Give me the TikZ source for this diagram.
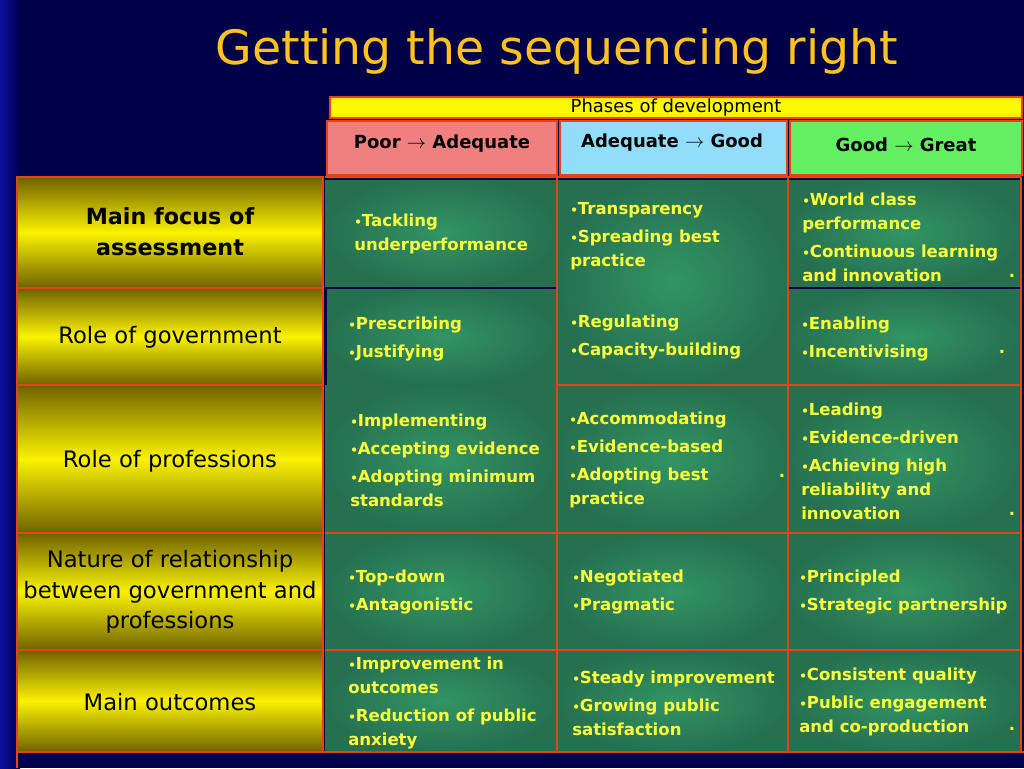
\documentclass[tikz,border=0pt]{standalone}
\usepackage{fontspec}
\setmainfont{DejaVu Sans}
\usetikzlibrary{positioning}

\definecolor{navy}{RGB}{0,0,72}
\definecolor{stripblue}{RGB}{14,14,160}
\definecolor{titlegold}{RGB}{255,194,30}
\definecolor{tblred}{RGB}{232,66,24}
\definecolor{cellgreen}{RGB}{38,112,80}
\definecolor{cellglow}{RGB}{50,148,100}
\definecolor{hdryellow}{RGB}{250,242,0}
\definecolor{hdrolive}{RGB}{112,98,0}
\definecolor{txtyellow}{RGB}{255,255,60}
\definecolor{poorpink}{RGB}{240,128,128}
\definecolor{adqblue}{RGB}{146,222,250}
\definecolor{goodgreen}{RGB}{98,240,98}

\newcommand{\itemdot}{{\small\textbullet}}

\tikzset{
  rowhead/.style={top color=hdrolive, bottom color=hdrolive, middle color=hdryellow, draw=tblred, line width=1.5pt},
  cellbox/.style={inner color=cellglow, outer color=cellgreen},
  redline/.style={draw=tblred, line width=1.5pt},
  navyline/.style={draw=navy, line width=1pt},
  celltext/.style={anchor=west, align=left, text=txtyellow, inner sep=0pt,
    font=\fontsize{12.4}{18}\selectfont\bfseries},
  straydot/.style={text=txtyellow, inner sep=0pt, font=\fontsize{12.4}{18}\selectfont\bfseries},
  headtext/.style={align=center, inner sep=0pt, font=\fontsize{17}{23}\selectfont},
  phasetext/.style={inner sep=0pt, font=\fontsize{13.5}{16}\selectfont\bfseries}
}

\begin{document}
\begin{tikzpicture}[x=0.75pt,y=-0.75pt]
\useasboundingbox (0,0) rectangle (1024,768);
% background
\fill[navy] (0,0) rectangle (1024,768);
\shade[left color=stripblue, right color=navy] (0,0) rectangle (20,768);

\node[text=titlegold, font=\fontsize{35.5}{40}\selectfont] (title) at (557,51) {Getting the sequencing right};

% phases header
\path[top color=yellow!85!orange, bottom color=yellow!85!orange, middle color=yellow, draw=tblred, line width=1.5pt] (330,97) rectangle (1022,118);
\node[font=\fontsize{13.5}{15}\selectfont] (phases) at (676,107.5) {Phases of development};
\path[fill=poorpink, draw=tblred, line width=1.5pt] (327,121) rectangle (557,175);
\path[fill=adqblue, draw=tblred, line width=1.5pt] (560,121) rectangle (787,175);
\path[fill=goodgreen, draw=tblred, line width=1.5pt] (790,121) rectangle (1022,175);
\node[phasetext] (poor) at (442,144) {Poor $\rightarrow$ Adequate};
\node[phasetext] (adequate) at (672,143) {Adequate $\rightarrow$ Good};
\node[phasetext] (good) at (906,145) {Good $\rightarrow$ Great};

% row headings
\path[rowhead] (17,177) rectangle (323,288);
\path[rowhead] (17,288) rectangle (323,385);
\path[rowhead] (17,385) rectangle (323,533);
\path[rowhead] (17,533) rectangle (323,650);
\path[rowhead] (17,650) rectangle (323,752);
\node[headtext, font=\fontsize{16.7}{23}\selectfont\bfseries] (focus) at (170,232) {Main focus of\\assessment};
\node[headtext] (govt) at (170,337) {Role of government};
\node[headtext] (prof) at (170,461) {Role of professions};
\node[headtext] (nature) at (170,592) {Nature of relationship\\between government and\\professions};
\node[headtext] (outcomes) at (170,702) {Main outcomes};

% green cells
\path[cellbox] (325,177) rectangle (557,288);
\path[cellbox] (325,288) rectangle (557,385);
\path[cellbox] (557,177) rectangle (788,385);
\path[cellbox] (788,177) rectangle (1021,288);
\path[cellbox] (788,288) rectangle (1021,385);
\path[cellbox] (325,385) rectangle (557,533);
\path[cellbox] (557,385) rectangle (788,533);
\path[cellbox] (788,385) rectangle (1021,533);
\path[cellbox] (325,533) rectangle (557,650);
\path[cellbox] (557,533) rectangle (788,650);
\path[cellbox] (788,533) rectangle (1021,650);
\path[cellbox] (325,650) rectangle (557,752);
\path[cellbox] (557,650) rectangle (788,752);
\path[cellbox] (788,650) rectangle (1021,752);

% grid lines
\draw[navyline] (325,179) -- (1021,179);
\draw[navyline] (325,288) -- (557,288);
\draw[navyline] (788,288) -- (1021,288);
\draw[navyline] (326,288) -- (326,385);
\draw[redline] (325,177) -- (1021,177);
\draw[redline] (557,177) -- (557,752);
\draw[redline] (788,177) -- (788,752);
\draw[redline] (1021,177) -- (1021,752);
\draw[redline] (557,385) -- (1021,385);
\draw[redline] (325,533) -- (1021,533);
\draw[redline] (325,650) -- (1021,650);
\draw[redline] (17,752) -- (1024,752);
\draw[redline] (17,177) -- (17,768);

% cell texts
\node[celltext] (focus-poor) at (354,234) {\itemdot Tackling\\underperformance};
\node[celltext] (focus-adequate) at (570,236) {\itemdot Transparency\\[3pt]\itemdot Spreading best\\practice};
\node[celltext] (focus-good) at (802,237) {\itemdot World class\\performance\\[3pt]\itemdot Continuous learning\\and innovation};
\node[celltext] (govt-poor) at (348,339) {\itemdot Prescribing\\[3pt]\itemdot Justifying};
\node[celltext] (govt-adequate) at (570,337) {\itemdot Regulating\\[3pt]\itemdot Capacity-building};
\node[celltext] (govt-good) at (801,339) {\itemdot Enabling\\[3pt]\itemdot Incentivising};
\node[celltext] (prof-poor) at (350,460) {\itemdot Implementing\\[3pt]\itemdot Accepting evidence\\[3pt]\itemdot Adopting minimum\\standards};
\node[celltext] (prof-adequate) at (569,460) {\itemdot Accommodating\\[3pt]\itemdot Evidence-based\\[3pt]\itemdot Adopting best\\practice};
\node[celltext] (prof-good) at (801,461) {\itemdot Leading\\[3pt]\itemdot Evidence-driven\\[3pt]\itemdot Achieving high\\reliability and\\innovation};
\node[celltext] (nature-poor) at (348,592) {\itemdot Top-down\\[3pt]\itemdot Antagonistic};
\node[celltext] (nature-adequate) at (572,592) {\itemdot Negotiated\\[3pt]\itemdot Pragmatic};
\node[celltext] (nature-good) at (799,592) {\itemdot Principled\\[3pt]\itemdot Strategic partnership};
\node[celltext] (outcomes-poor) at (348,703) {\itemdot Improvement in\\outcomes\\[3pt]\itemdot Reduction of public\\anxiety};
\node[celltext] (outcomes-adequate) at (572,703) {\itemdot Steady improvement\\[3pt]\itemdot Growing public\\satisfaction};
\node[celltext] (outcomes-good) at (799,702) {\itemdot Consistent quality\\[3pt]\itemdot Public engagement\\and co-production};

% stray full stops
\node[straydot] (dot1) at (1012,276) {.};
\node[straydot] (dot2) at (1002,352) {.};
\node[straydot] (dot3) at (782,476) {.};
\node[straydot] (dot4) at (1012,514) {.};
\node[straydot] (dot5) at (1012,729) {.};
\end{tikzpicture}
\end{document}
